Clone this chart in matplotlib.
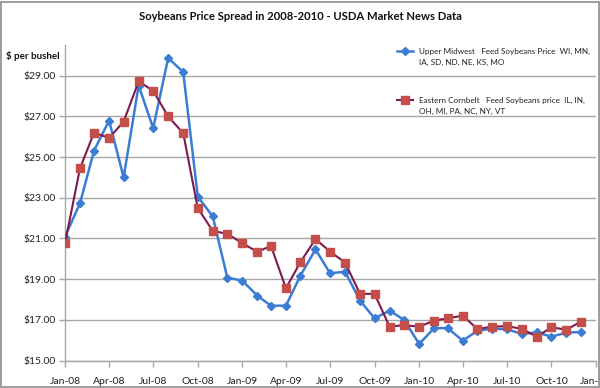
import matplotlib
matplotlib.use("Agg")
import matplotlib.pyplot as plt
import matplotlib.dates as mdates
from matplotlib.lines import Line2D
import pandas as pd

months = pd.date_range("2008-01-01", "2010-12-01", freq="MS")
upper_midwest = [21.09, 22.73, 25.32, 26.79, 24.00, 28.51, 26.42, 29.86, 29.17, 23.06, 22.08, 19.08,
                 18.93, 18.19, 17.70, 17.70, 19.18, 20.47, 19.29, 19.37, 17.95, 17.08, 17.46, 17.00,
                 15.82, 16.60, 16.60, 15.98, 16.47, 16.57, 16.55, 16.31, 16.39, 16.18, 16.38, 16.41]
eastern_cornbelt = [20.77, 24.45, 26.20, 25.93, 26.74, 28.71, 28.25, 26.99, 26.17, 22.49, 21.37, 21.23,
                    20.77, 20.34, 20.64, 18.56, 19.84, 20.97, 20.36, 19.82, 18.28, 18.28, 16.67, 16.75,
                    16.67, 16.97, 17.08, 17.21, 16.56, 16.67, 16.70, 16.56, 16.18, 16.64, 16.52, 16.92]
label_um = ["Upper Midwest   Feed Soybeans Price  WI, MN,", "IA, SD, ND, NE, KS, MO"]
label_ec = ["Eastern Cornbelt   Feed Soybeans price  IL, IN,", "OH, MI, PA, NC, NY, VT"]
title = "Soybeans Price Spread in 2008-2010 - USDA Market News Data"
ylabel = "$ per bushel"
yticks = [15, 17, 19, 21, 23, 25, 27, 29]

plt.rcParams['font.family'] = ['Lato', 'DejaVu Sans']

BLUE = "#3B7DD3"
RED_M = "#C44E4A"
RED_L = "#7E1A50"
GRID = "#A6A6A6"

fig = plt.figure(figsize=(6.0, 3.88), dpi=100)
ax = fig.add_axes([65/600, 1 - 360.7/388, (596-65)/600, (360.7-45)/388])

ax.plot(months, upper_midwest, color=BLUE, lw=1.8, marker="D", ms=4.2, mfc=BLUE, mec=BLUE, zorder=3)
ax.plot(months, eastern_cornbelt, color=RED_L, lw=1.5, marker="s", ms=5.5, mfc=RED_M, mec=RED_M, zorder=4)

ax.set_ylim(15, 30.5)
ax.set_yticks(yticks)
ax.set_yticklabels([f"${v:.2f}" for v in yticks])
ax.set_xlim(pd.Timestamp("2008-01-01"), pd.Timestamp("2011-01-01"))
ax.xaxis.set_major_locator(mdates.MonthLocator(bymonth=[1, 4, 7, 10]))
ax.xaxis.set_major_formatter(mdates.DateFormatter("%b-%y"))
ax.yaxis.grid(True, color=GRID, lw=1.0)
ax.set_axisbelow(True)
for s in ["top", "right"]:
    ax.spines[s].set_visible(False)
for s in ["left", "bottom"]:
    ax.spines[s].set_color(GRID)
    ax.spines[s].set_linewidth(1.0)
ax.tick_params(axis="both", colors=GRID, length=4, width=1.0, labelsize=7.5, labelcolor="#222222")
ax.tick_params(axis="x", pad=8)
ax.tick_params(axis="y", pad=3)

fig.text(300/600, 1 - 16/388, title, ha="center", va="center", fontsize=8.1, fontweight="bold", color="#111111")
fig.text(33/600, 1 - 56/388, ylabel, ha="center", va="center", fontsize=7, fontweight="bold", color="#111111")

# legend
for (y1, lab, col, mk, mc, ms, lw) in [(51, label_um, BLUE, "D", BLUE, 4.2, 1.8),
                                        (100, label_ec, RED_L, "s", RED_M, 5.5, 1.5)]:
    fig.add_artist(Line2D([397/600, 413/600], [1 - y1/388] * 2, color=col, lw=lw))
    fig.add_artist(Line2D([405/600], [1 - y1/388], color=col, marker=mk, ms=ms, mfc=mc, mec=mc))
    fig.text(419/600, 1 - y1/388, lab[0], ha="left", va="center", fontsize=5.9, color="#222222")
    fig.text(419/600, 1 - (y1 + 11.5)/388, lab[1], ha="left", va="center", fontsize=5.9, color="#222222")

fig.add_artist(plt.Rectangle((0.002, 0.002), 0.996, 0.994, transform=fig.transFigure,
                             fill=False, edgecolor="#8C8C8C", lw=1.2))

fig.savefig("out.png", dpi=100)
